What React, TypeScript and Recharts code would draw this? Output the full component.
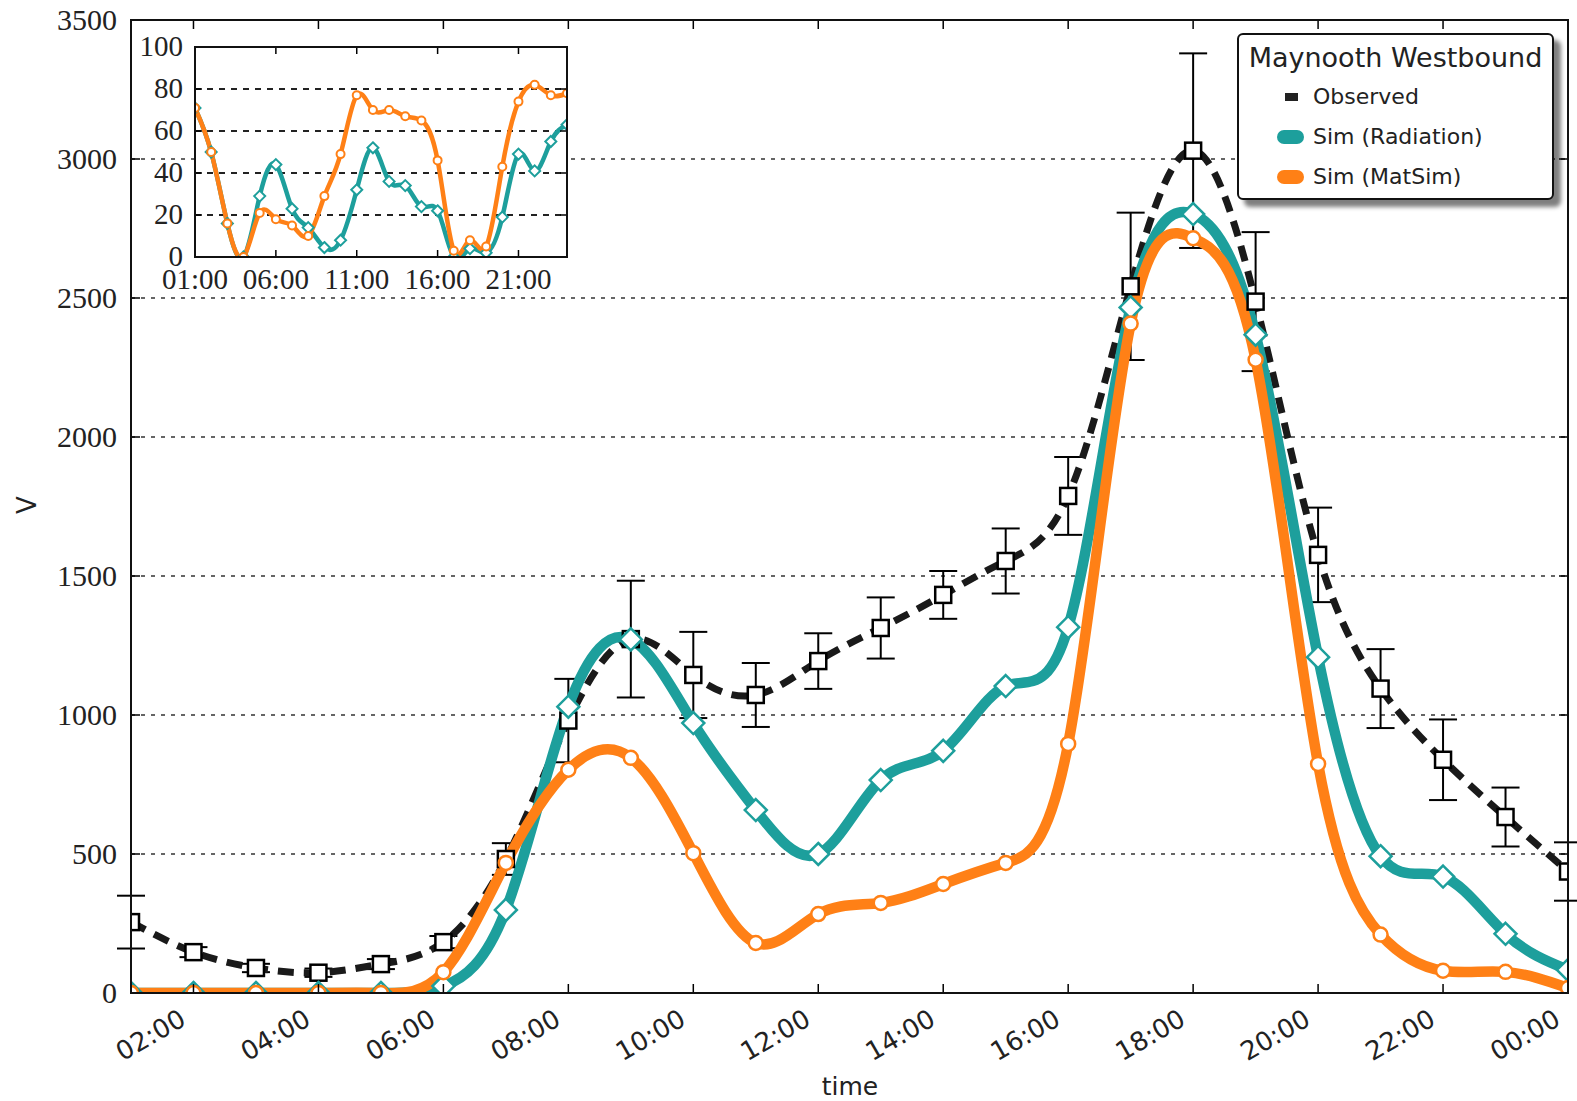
import React from "react";
import { LineChart, Line, XAxis, YAxis, CartesianGrid, ErrorBar } from "recharts";

// hours of the day (24 = midnight)
const hours = [1, 2, 3, 4, 5, 6, 7, 8, 9, 10, 11, 12, 13, 14, 15, 16, 17, 18, 19, 20, 21, 22, 23, 24];

const observed = [255, 147, 90, 73, 104, 183, 482, 980, 1273, 1144, 1072, 1194, 1313, 1432, 1554, 1788, 2542, 3030, 2487, 1576, 1095, 839, 633, 437];
const observedErr = [95, 18, 15, 15, 18, 22, 57, 150, 210, 155, 115, 100, 110, 86, 117, 140, 265, 350, 250, 170, 142, 145, 106, 105];
const radiation = [0, 0, 0, 0, 0, 25, 299, 1030, 1272, 971, 658, 500, 766, 871, 1104, 1316, 2466, 2802, 2368, 1208, 492, 419, 213, 83];
const matsim = [0, 0, 0, 0, 0, 75, 468, 803, 846, 503, 180, 284, 324, 392, 468, 896, 2408, 2715, 2278, 824, 210, 80, 76, 18];

// inset series
const insetRadiation = [71, 50, 16, 0, 29, 44, 23, 14, 4.5, 8, 32, 52, 36, 34, 24, 22, 0, 4, 2, 19, 49, 41, 55, 63];
const insetMatsim = [71, 50, 16, 0, 21, 18, 15, 10, 29, 49, 77, 70, 70, 67, 65, 46, 3, 8, 5, 43, 74, 82, 77, 78];

const mainXTicks = [2, 4, 6, 8, 10, 12, 14, 16, 18, 20, 22, 24];
const mainYTicks = [0, 500, 1000, 1500, 2000, 2500, 3000, 3500];
const insetXTicks = [1, 6, 11, 16, 21];
const insetYTicks = [0, 20, 40, 60, 80, 100];

const TEAL = "#1d9f9c";
const ORANGE = "#ff8016";
const SERIF = "'Liberation Serif', serif";
const SANS = "'DejaVu Sans', sans-serif";

const mainData = hours.map((h, i) => ({
  h,
  obs: observed[i],
  obsErr: observedErr[i],
  rad: radiation[i],
  mat: matsim[i],
}));

const insetData = hours.map((h, i) => ({
  h,
  rad: insetRadiation[i],
  mat: insetMatsim[i],
}));

const fmtHour = (h: number) => `${String(h % 24).padStart(2, "0")}:00`;

// main plot box
const PLOT_W = 1437;
const PLOT_H = 973;
// inset plot box
const IN_W = 372;
const IN_H = 210;

const MainYTick = (p: any) => (
  <g>
    <line x1={p.x} x2={p.x + 9} y1={p.y} y2={p.y} stroke="#000" strokeWidth={1.5} />
    <line x1={p.x + PLOT_W} x2={p.x + PLOT_W - 9} y1={p.y} y2={p.y} stroke="#000" strokeWidth={1.5} />
    <text x={p.x - 14} y={p.y} dy={10} textAnchor="end" fontFamily={SERIF} fontSize={30} fill="#222">
      {p.payload.value}
    </text>
  </g>
);

const MainXTick = (p: any) => (
  <g>
    <line x1={p.x} x2={p.x} y1={p.y} y2={p.y - 9} stroke="#000" strokeWidth={1.5} />
    <line x1={p.x} x2={p.x} y1={p.y - PLOT_H} y2={p.y - PLOT_H + 9} stroke="#000" strokeWidth={1.5} />
    <text
      x={p.x - 6}
      y={p.y + 31}
      textAnchor="end"
      fontFamily={SANS}
      fontSize={26}
      fill="#222"
      transform={`rotate(-30 ${p.x - 6} ${p.y + 31})`}
    >
      {fmtHour(p.payload.value)}
    </text>
  </g>
);

const InsetYTick = (p: any) => (
  <g>
    <line x1={p.x} x2={p.x + 7} y1={p.y} y2={p.y} stroke="#000" strokeWidth={1.5} />
    <line x1={p.x + IN_W} x2={p.x + IN_W - 7} y1={p.y} y2={p.y} stroke="#000" strokeWidth={1.5} />
    <text x={p.x - 12} y={p.y} dy={9} textAnchor="end" fontFamily={SERIF} fontSize={29} fill="#222">
      {p.payload.value}
    </text>
  </g>
);

const InsetXTick = (p: any) => (
  <g>
    <line x1={p.x} x2={p.x} y1={p.y} y2={p.y - 7} stroke="#000" strokeWidth={1.5} />
    <line x1={p.x} x2={p.x} y1={p.y - IN_H} y2={p.y - IN_H + 7} stroke="#000" strokeWidth={1.5} />
    <text x={p.x} y={p.y + 32} textAnchor="middle" fontFamily={SERIF} fontSize={29} fill="#222">
      {fmtHour(p.payload.value)}
    </text>
  </g>
);

const squareDot = (p: any) =>
  p.cx == null ? null : (
    <rect key={`sq-${p.index}`} x={p.cx - 8} y={p.cy - 8} width={16} height={16} fill="#fff" stroke="#000" strokeWidth={2.5} />
  );

const makeDiamond = (r: number, sw: number) => (p: any) =>
  p.cx == null ? null : (
    <polygon
      key={`dm-${p.index}`}
      points={`${p.cx},${p.cy - r} ${p.cx + r},${p.cy} ${p.cx},${p.cy + r} ${p.cx - r},${p.cy}`}
      fill="#fff"
      stroke={TEAL}
      strokeWidth={sw}
    />
  );

const makeCircle = (r: number, sw: number) => (p: any) =>
  p.cx == null ? null : (
    <circle key={`ci-${p.index}`} cx={p.cx} cy={p.cy} r={r} fill="#fff" stroke={ORANGE} strokeWidth={sw} />
  );

function Legend() {
  const row = (top: number, marker: React.ReactNode, label: string) => (
    <div style={{ position: "absolute", left: 0, top, height: 30, width: "100%" }}>
      {marker}
      <span style={{ position: "absolute", left: 74, top: 0, lineHeight: "30px", fontSize: 22 }}>{label}</span>
    </div>
  );
  return (
    <div
      style={{
        position: "absolute",
        left: 1237,
        top: 33,
        width: 317,
        height: 167,
        boxSizing: "border-box",
        border: "2.5px solid #111",
        borderRadius: 6,
        background: "#fff",
        boxShadow: "7px 7px 4px rgba(0,0,0,0.5)",
        fontFamily: SANS,
        color: "#222",
      }}
    >
      <div style={{ position: "absolute", left: 0, top: 6, width: "100%", textAlign: "center", fontSize: 27, lineHeight: "34px" }}>
        Maynooth Westbound
      </div>
      {row(
        47,
        <div style={{ position: "absolute", left: 46, top: 11, width: 13, height: 8, background: "#222" }} />,
        "Observed"
      )}
      {row(
        87,
        <div style={{ position: "absolute", left: 38, top: 8, width: 27, height: 14, borderRadius: 7, background: TEAL }} />,
        "Sim (Radiation)"
      )}
      {row(
        127,
        <div style={{ position: "absolute", left: 38, top: 8, width: 27, height: 14, borderRadius: 7, background: ORANGE }} />,
        "Sim (MatSim)"
      )}
    </div>
  );
}

export default function App() {
  return (
    <div style={{ position: "absolute", left: 0, top: 0, width: 1577, height: 1101, background: "#fff", overflow: "hidden" }}>
      <LineChart width={1577} height={1101} data={mainData} margin={{ top: 20, right: 9, bottom: 0, left: 0 }}>
        <CartesianGrid vertical={false} stroke="#333" strokeWidth={1.5} strokeDasharray="4 6" />
        <XAxis
          dataKey="h"
          type="number"
          domain={[1, 24]}
          ticks={mainXTicks}
          interval={0}
          allowDataOverflow
          height={108}
          tickSize={0}
          tickMargin={0}
          axisLine={false}
          tick={MainXTick}
        />
        <YAxis
          type="number"
          domain={[0, 3500]}
          ticks={mainYTicks}
          interval={0}
          allowDataOverflow
          width={131}
          tickSize={0}
          tickMargin={0}
          axisLine={false}
          tick={MainYTick}
        />
        <Line
          dataKey="obs"
          type="natural"
          stroke="#1a1a1a"
          strokeWidth={7}
          strokeDasharray="16 10"
          dot={squareDot}
          activeDot={false}
          isAnimationActive={false}
        >
          <ErrorBar dataKey="obsErr" direction="y" width={14} stroke="#000" strokeWidth={2} />
        </Line>
        <Line
          dataKey="rad"
          type="natural"
          stroke={TEAL}
          strokeWidth={10.5}
          dot={makeDiamond(11, 2.5)}
          activeDot={false}
          isAnimationActive={false}
        />
        <Line
          dataKey="mat"
          type="natural"
          stroke={ORANGE}
          strokeWidth={10.5}
          dot={makeCircle(7, 2.5)}
          activeDot={false}
          isAnimationActive={false}
        />
      </LineChart>
      <div
        style={{
          position: "absolute",
          left: 131 - 1.25,
          top: 20 - 1.25,
          width: PLOT_W + 2.5,
          height: PLOT_H + 2.5,
          boxSizing: "border-box",
          border: "2.5px solid #111",
          pointerEvents: "none",
        }}
      />

      <div style={{ position: "absolute", left: 100, top: 30 }}>
        <LineChart width={487} height={272} data={insetData} margin={{ top: 17, right: 20, bottom: 0, left: 0 }}>
          <CartesianGrid vertical={false} fill="#fff" stroke="#222" strokeWidth={1.8} strokeDasharray="6 6" />
          <XAxis
            dataKey="h"
            type="number"
            domain={[1, 24]}
            ticks={insetXTicks}
            interval={0}
            allowDataOverflow
            height={45}
            tickSize={0}
            tickMargin={0}
            axisLine={false}
            tick={InsetXTick}
          />
          <YAxis
            type="number"
            domain={[0, 100]}
            ticks={insetYTicks}
            interval={0}
            allowDataOverflow
            width={95}
            tickSize={0}
            tickMargin={0}
            axisLine={false}
            tick={InsetYTick}
          />
          <Line
            dataKey="rad"
            type="natural"
            stroke={TEAL}
            strokeWidth={4.5}
            dot={makeDiamond(5.5, 2)}
            activeDot={false}
            isAnimationActive={false}
          />
          <Line
            dataKey="mat"
            type="natural"
            stroke={ORANGE}
            strokeWidth={4.5}
            dot={makeCircle(4, 2)}
            activeDot={false}
            isAnimationActive={false}
          />
        </LineChart>
        <div
          style={{
            position: "absolute",
            left: 95 - 1.25,
            top: 17 - 1.25,
            width: IN_W + 2.5,
            height: IN_H + 2.5,
            boxSizing: "border-box",
            border: "2.5px solid #111",
            pointerEvents: "none",
          }}
        />
      </div>

      <Legend />

      <div
        style={{
          position: "absolute",
          left: 27,
          top: 505,
          transform: "translate(-50%, -50%) rotate(-90deg)",
          fontFamily: SANS,
          fontSize: 26,
          lineHeight: 1,
          color: "#222",
        }}
      >
        V
      </div>
      <div
        style={{
          position: "absolute",
          left: 850,
          top: 1086,
          transform: "translate(-50%, -50%)",
          fontFamily: SANS,
          fontSize: 25,
          lineHeight: 1,
          color: "#222",
        }}
      >
        time
      </div>
    </div>
  );
}
